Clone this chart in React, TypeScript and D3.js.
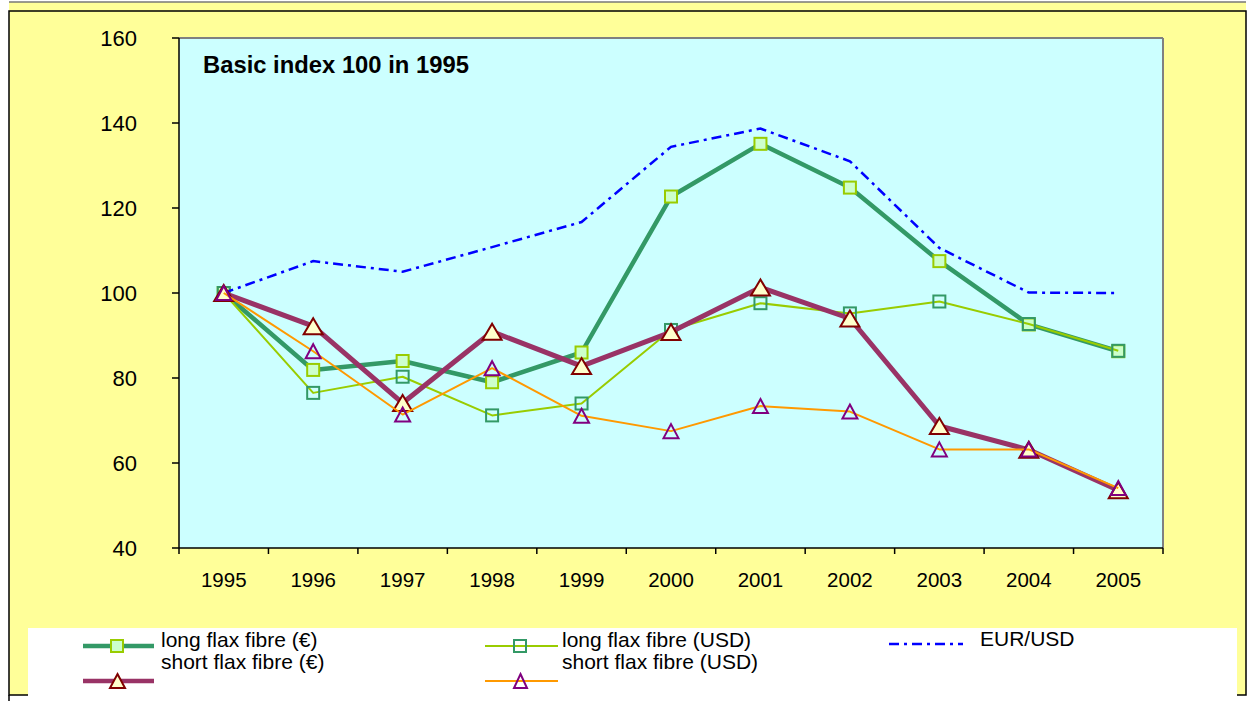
import React from "react";
import * as d3 from "d3";

const years = ["1995", "1996", "1997", "1998", "1999", "2000", "2001", "2002", "2003", "2004", "2005"];
const longEur = [100, 81.9, 84.0, 79.0, 86.0, 122.7, 135.1, 124.8, 107.5, 92.6, 86.3];
const longUsd = [100, 76.5, 80.3, 71.2, 74.0, 91.3, 97.6, 95.2, 98.0, 92.7, 86.4];
const eurUsd = [100, 107.5, 105.0, 110.8, 116.7, 134.4, 138.7, 131.0, 110.6, 100.1, 100.0];
const shortEur = [100, 92.2, 74.1, 90.9, 82.8, 90.8, 101.3, 94.0, 68.7, 63.1, 53.6];
const shortUsd = [100, 86.3, 71.4, 82.3, 71.1, 67.5, 73.4, 72.1, 63.2, 63.2, 54.1];
const yTicks = [40, 60, 80, 100, 120, 140, 160];

const W = 1247;
const H = 701;
const plot = { left: 179, right: 1163, top: 38, bottom: 548 };
const FONT = "'Liberation Sans', Arial, sans-serif";

function tri(cx: number, cy: number, w: number, h: number) {
  return `M${cx},${cy - h / 2}L${cx + w / 2},${cy + h / 2}L${cx - w / 2},${cy + h / 2}Z`;
}

export default function App() {
  const x = d3.scaleBand<string>().domain(years).range([plot.left, plot.right]).padding(0);
  const y = d3.scaleLinear().domain([40, 160]).range([plot.bottom, plot.top]);
  const cx = (yr: string) => (x(yr) as number) + x.bandwidth() / 2;
  const line = d3
    .line<number>()
    .x((_, i) => cx(years[i]))
    .y((v) => y(v));

  const boundaries = years.map((yr) => x(yr) as number).concat([plot.right]);

  const squareFilled = (v: number, i: number, k: string) => (
    <rect key={k + i} x={cx(years[i]) - 6} y={y(v) - 6} width={12} height={12} fill="#ccffcc" stroke="#99cc00" strokeWidth={2} />
  );
  const squareHollow = (v: number, i: number, k: string) => (
    <rect key={k + i} x={cx(years[i]) - 6} y={y(v) - 6} width={12} height={12} fill="none" stroke="#339966" strokeWidth={2} />
  );
  const triFilled = (v: number, i: number, k: string) => (
    <path key={k + i} d={tri(cx(years[i]), y(v), 19, 16)} fill="#ffffcc" stroke="#800000" strokeWidth={2} strokeLinejoin="miter" />
  );
  const triHollow = (v: number, i: number, k: string) => (
    <path key={k + i} d={tri(cx(years[i]), y(v), 15, 14)} fill="none" stroke="#800080" strokeWidth={2} />
  );

  return (
    <svg width={W} height={H} style={{ position: "absolute", left: 0, top: 0 }} fontFamily={FONT}>
      {/* outer frame */}
      <rect x={9} y={2} width={1237} height={9} fill="#ffff99" />
      <line x1={9} x2={1246} y1={2} y2={2} stroke="#777" strokeWidth={1.5} />
      <rect x={9} y={11} width={1237} height={684} fill="#ffff99" stroke="#000" strokeWidth={1.5} />
      <line x1={9} x2={9} y1={695} y2={701} stroke="#000" strokeWidth={1.5} />

      {/* plot area */}
      <rect x={plot.left} y={plot.top} width={plot.right - plot.left} height={plot.bottom - plot.top} fill="#ccffff" />
      <line x1={plot.left} x2={plot.right} y1={plot.top} y2={plot.top} stroke="#808080" strokeWidth={2} />
      <line x1={plot.right} x2={plot.right} y1={plot.top} y2={plot.bottom} stroke="#808080" strokeWidth={2} />

      {/* axes */}
      <line x1={plot.left} x2={plot.left} y1={plot.top} y2={plot.bottom} stroke="#000" strokeWidth={1.5} />
      <line x1={plot.left} x2={plot.right} y1={plot.bottom} y2={plot.bottom} stroke="#000" strokeWidth={1.5} />
      {yTicks.map((t) => (
        <g key={t}>
          <line x1={plot.left - 7} x2={plot.left} y1={y(t)} y2={y(t)} stroke="#000" strokeWidth={1.5} />
          <text x={137} y={y(t)} dy="0.36em" textAnchor="end" fontSize={22} fill="#000">
            {t}
          </text>
        </g>
      ))}
      {boundaries.map((b, i) => (
        <line key={i} x1={b} x2={b} y1={plot.bottom} y2={plot.bottom + 6} stroke="#000" strokeWidth={1.5} />
      ))}
      {years.map((yr) => (
        <text key={yr} x={cx(yr)} y={587} textAnchor="middle" fontSize={20.5} fill="#000">
          {yr}
        </text>
      ))}

      <text x={203} y={73} fontSize={23.8} fontWeight="bold" fill="#000">
        Basic index 100 in 1995
      </text>

      {/* series */}
      <path d={line(longEur) || ""} fill="none" stroke="#339966" strokeWidth={4.5} strokeLinejoin="round" />
      {longEur.map((v, i) => squareFilled(v, i, "le"))}
      <path d={line(longUsd) || ""} fill="none" stroke="#99cc00" strokeWidth={2} strokeLinejoin="round" />
      {longUsd.map((v, i) => squareHollow(v, i, "lu"))}
      <path d={line(eurUsd) || ""} fill="none" stroke="#0000ff" strokeWidth={2.5} strokeDasharray="10 5 3 5" />
      <path d={line(shortEur) || ""} fill="none" stroke="#993366" strokeWidth={5} strokeLinejoin="round" />
      {shortEur.map((v, i) => triFilled(v, i, "se"))}
      <path d={line(shortUsd) || ""} fill="none" stroke="#ff9900" strokeWidth={2} strokeLinejoin="round" />
      {shortUsd.map((v, i) => triHollow(v, i, "su"))}

      {/* legend */}
      <rect x={28} y={628} width={1209} height={73} fill="#ffffff" />
      <g fontSize={21} fill="#000">
        <line x1={83} x2={154} y1={646} y2={646} stroke="#339966" strokeWidth={4.5} />
        <rect x={111} y={640} width={12} height={12} fill="#ccffcc" stroke="#99cc00" strokeWidth={2} />
        <text x={161} y={647}>long flax fibre (€)</text>
        <text x={161} y={669}>short flax fibre (€)</text>
        <line x1={83} x2={154} y1={681} y2={681} stroke="#993366" strokeWidth={4.5} />
        <path d={tri(117.5, 681, 15, 14)} fill="#ffffcc" stroke="#800000" strokeWidth={2} />

        <line x1={485} x2={558} y1={646} y2={646} stroke="#99cc00" strokeWidth={2} />
        <rect x={514} y={640} width={12} height={12} fill="none" stroke="#339966" strokeWidth={2} />
        <text x={562} y={647}>long flax fibre (USD)</text>
        <text x={562} y={669}>short flax fibre (USD)</text>
        <line x1={485} x2={558} y1={681} y2={681} stroke="#ff9900" strokeWidth={2} />
        <path d={tri(520.5, 681, 13, 14)} fill="none" stroke="#800080" strokeWidth={2} />

        <line x1={889} x2={963} y1={644} y2={644} stroke="#0000ff" strokeWidth={2.5} strokeDasharray="10 5 3 5" />
        <text x={980} y={646}>EUR/USD</text>
      </g>
    </svg>
  );
}
